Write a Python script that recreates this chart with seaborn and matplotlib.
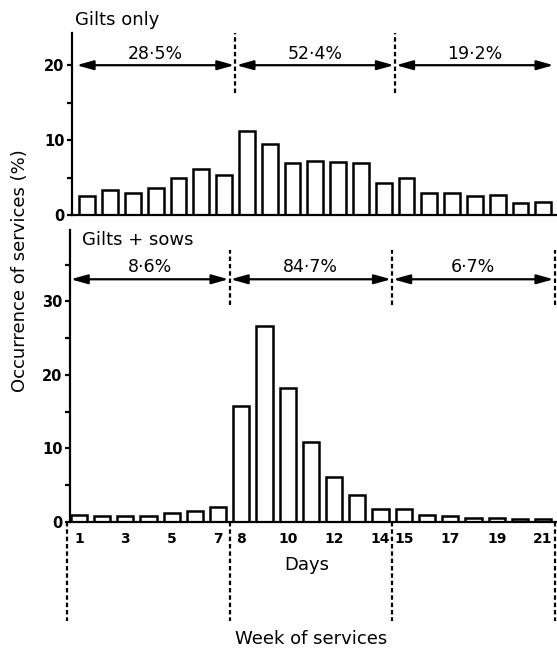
import matplotlib
matplotlib.use('Agg')
import matplotlib.pyplot as plt
import seaborn as sns

# daily occurrence of services (%)
days = list(range(1, 22))
gilts_only = [2.5, 3.3, 3.0, 3.6, 5.0, 6.2, 5.4, 11.2, 9.5, 7.0, 7.2,
              7.1, 7.0, 4.3, 5.0, 3.0, 3.0, 2.6, 2.7, 1.6, 1.7]
gilts_sows = [0.9, 0.8, 0.8, 0.8, 1.2, 1.5, 2.1, 15.8, 26.6, 18.2, 10.9,
              6.1, 3.7, 1.8, 1.8, 0.9, 0.8, 0.6, 0.5, 0.45, 0.35]
week_bounds = [0.5, 7.5, 14.5, 21.5]
top_shares = ['28·5%', '52·4%', '19·2%']
bottom_shares = ['8·6%', '84·7%', '6·7%']
tick_days = [1, 3, 5, 7, 8, 10, 12, 14, 15, 17, 19, 21]

sns.set_style('ticks', {'text.color': 'black', 'axes.edgecolor': 'black',
                        'xtick.color': 'black', 'ytick.color': 'black',
                        'axes.labelcolor': 'black'})
plt.rcParams['font.family'] = ['DejaVu Sans']

W, H = 557, 651
fig = plt.figure(figsize=(W / 100, H / 100), dpi=100)
ax_top = fig.add_axes([72 / W, 436 / H, 485 / W, 182 / H])
ax_bot = fig.add_axes([70 / W, 129 / H, 487 / W, 292 / H])

dash = (0, (2, 1.3))
lw = 1.6


def draw_panel(ax, values, xlim, ylim, major, minor):
    sns.barplot(x=days, y=values, native_scale=True, width=0.7, color='white',
                edgecolor='black', linewidth=1.8, saturation=1, errorbar=None, ax=ax)
    ax.set_xlim(*xlim)
    ax.set_ylim(*ylim)
    ax.set_yticks(major)
    ax.set_yticks(minor, minor=True)
    ax.tick_params(axis='y', which='both', direction='out', length=3.8, width=lw,
                   labelsize=10.5, pad=1.5, colors='black')
    for lbl in ax.get_yticklabels():
        lbl.set_fontweight('bold')
    sns.despine(ax=ax)
    ax.spines['left'].set_linewidth(lw)
    ax.spines['bottom'].set_linewidth(lw)
    ax.spines['left'].set_color('black')
    ax.spines['bottom'].set_color('black')
    ax.set_xlabel('')
    ax.set_ylabel('')


def draw_weeks(ax, shares, xlim, y_arrow, y_text, dash_lo, dash_hi, dash_bounds):
    for i, share in enumerate(shares):
        x0 = max(week_bounds[i], xlim[0]) + (0.04 if i > 0 else 0.03)
        x1 = min(week_bounds[i + 1], xlim[1]) - 0.05
        ax.annotate('', xy=(x1, y_arrow), xytext=(x0, y_arrow),
                    arrowprops=dict(arrowstyle='<|-|>,head_length=1.0,head_width=0.28',
                                    color='black', lw=lw, shrinkA=0, shrinkB=0),
                    annotation_clip=False)
        ax.text((x0 + x1) / 2, y_text, share, ha='center', va='center',
                fontsize=12.5, color='black')
    for b in dash_bounds:
        ax.plot([b, b], [dash_lo, dash_hi], color='black', lw=lw, ls=dash, clip_on=False)


# top panel: gilts only
top_xlim = (0.33, 21.6)
draw_panel(ax_top, gilts_only, top_xlim, (0, 24.3), [0, 10, 20], [5, 15])
ax_top.set_xticks([])
draw_weeks(ax_top, top_shares, top_xlim, 20, 21.5, 16.3, 24.3, week_bounds[1:3])

# bottom panel: gilts + sows
bot_xlim = (0.62, 21.6)
draw_panel(ax_bot, gilts_sows, bot_xlim, (0, 39.7), [0, 10, 20, 30], [5, 15, 25, 35])
ax_bot.set_xticks(tick_days)
ax_bot.set_xticklabels([str(d) for d in tick_days], fontweight='bold')
ax_bot.tick_params(axis='x', length=0, labelsize=10, pad=7, colors='black')
draw_weeks(ax_bot, bottom_shares, bot_xlim, 33, 34.7, 29.5, 37.0, week_bounds[1:])
for b in week_bounds:
    ax_bot.plot([b, b], [0, -13.5], color='black', lw=lw, ls=dash, clip_on=False)

fig.text(75 / W, 1 - 20 / H, 'Gilts only', ha='left', va='center', fontsize=13)
fig.text(82 / W, 1 - 240 / H, 'Gilts + sows', ha='left', va='center', fontsize=13)
fig.text(20 / W, 1 - 271 / H, 'Occurrence of services (%)', rotation=90,
         ha='center', va='center', fontsize=13)
fig.text(307 / W, 1 - 565 / H, 'Days', ha='center', va='center', fontsize=13)
fig.text(311 / W, 1 - 639 / H, 'Week of services', ha='center', va='center', fontsize=13)

fig.savefig('out.png', dpi=100)
